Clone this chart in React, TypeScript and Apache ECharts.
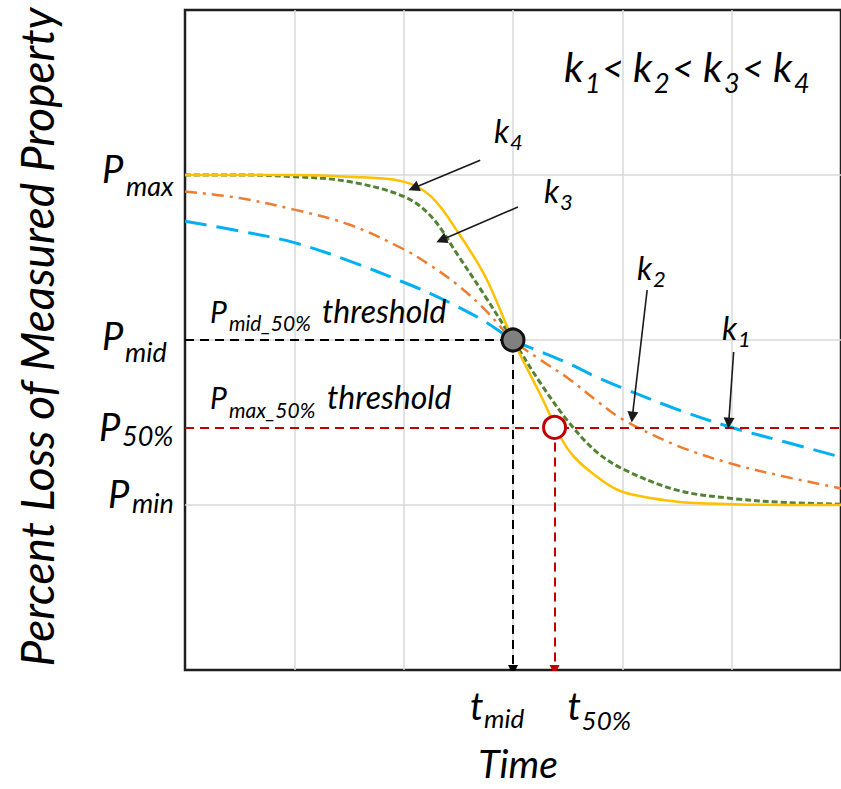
import React, { useEffect, useRef } from "react";
import * as echarts from "echarts";

// ---- data (time in grid units, property in grid units) ----
const timePoints = [0, 0.5, 1, 1.5, 2, 2.25, 2.5, 2.75, 3, 3.25, 3.5, 3.75, 4, 4.5, 5, 5.5, 6];
const k4Values = [3.0, 3.0, 3.0, 2.99, 2.96, 2.87, 2.65, 2.38, 2.0, 1.67, 1.34, 1.18, 1.08, 1.02, 1.005, 1.0, 1.0];
const k3Values = [3.0, 3.0, 2.99, 2.96, 2.87, 2.75, 2.51, 2.26, 2.0, 1.74, 1.51, 1.33, 1.22, 1.09, 1.04, 1.015, 1.005];
const k2Values = [2.9, 2.86, 2.79, 2.7, 2.55, 2.45, 2.33, 2.18, 2.0, 1.88, 1.77, 1.64, 1.52, 1.36, 1.25, 1.17, 1.1];
const k1Values = [2.72, 2.66, 2.59, 2.48, 2.35, 2.28, 2.2, 2.11, 2.0, 1.93, 1.86, 1.78, 1.71, 1.58, 1.47, 1.38, 1.29];

const pMax = 3;
const pMid = 2;
const p50 = 1.47;
const pMin = 1;
const tMid = 3;
const t50 = 3.38;
const tMin = 0;
const tMax = 6;
const yMin = 0;
const yMax = 4;

// annotation arrows (from label to curve), in data units
const arrowNames = ["k4", "k3", "k2", "k1"];
const arrowFrom = [[2.7, 3.09], [3.045, 2.806], [4.227, 2.303], [5.018, 1.927]];
const arrowTo = [[2.091, 2.921], [2.345, 2.606], [4.091, 1.533], [4.973, 1.497]];

const FONT = "Lato";

function App() {
  const ref = useRef<HTMLDivElement>(null);
  useEffect(() => {
    if (!ref.current) return;
    const chart = echarts.init(ref.current, null, { renderer: "svg" });
    const pair = (vals: number[]) => timePoints.map((t, i) => [t, vals[i]]);
    const curve = (name: string, vals: number[], lineStyle: any) => ({
      name,
      type: "line",
      data: pair(vals),
      smooth: 0.35,
      showSymbol: false,
      z: 2,
      lineStyle,
    });
    const option: any = {
      animation: false,
      grid: {
        left: 185,
        top: 10,
        width: 660,
        height: 660,
        show: true,
        borderColor: "#1e1e1e",
        borderWidth: 2.5,
        backgroundColor: "transparent",
      },
      xAxis: {
        type: "value",
        min: tMin,
        max: tMax,
        interval: 1,
        axisLine: { show: false },
        axisTick: { show: false },
        axisLabel: { show: false },
        splitLine: { show: true, showMinLine: false, showMaxLine: false, lineStyle: { color: "#d9d9d9", width: 1.5 } },
      },
      yAxis: {
        type: "value",
        min: yMin,
        max: yMax,
        interval: 1,
        axisLine: { show: false },
        axisTick: { show: false },
        axisLabel: { show: false },
        splitLine: { show: true, showMinLine: false, showMaxLine: false, lineStyle: { color: "#d9d9d9", width: 1.5 } },
      },
      series: [
        curve("k1", k1Values, { color: "#00B0F0", width: 3, type: [22, 10] }),
        curve("k2", k2Values, { color: "#ED7D31", width: 2.5, type: [12, 6, 3, 6] }),
        curve("k3", k3Values, { color: "#548235", width: 3, type: [6, 3] }),
        curve("k4", k4Values, { color: "#FFC000", width: 2.5 }),
        {
          name: "thresholds",
          type: "lines",
          coordinateSystem: "cartesian2d",
          z: 3,
          symbol: ["none", "none"],
          data: [
            { coords: [[tMin, pMid], [tMid, pMid]], lineStyle: { color: "#000" } },
            { coords: [[tMin, p50], [tMax, p50]], lineStyle: { color: "#C00000" } },
          ],
          lineStyle: { width: 2, type: [9, 6], opacity: 1 },
        },
        {
          name: "drops",
          type: "lines",
          coordinateSystem: "cartesian2d",
          z: 3,
          symbol: ["none", "triangle"],
          symbolSize: 10,
          data: [
            { coords: [[tMid, pMid], [tMid, yMin]], lineStyle: { color: "#000" } },
            { coords: [[t50, p50], [t50, yMin]], lineStyle: { color: "#C00000" } },
          ],
          lineStyle: { width: 2, type: [9, 6], opacity: 1 },
        },
        {
          name: "pointers",
          type: "lines",
          coordinateSystem: "cartesian2d",
          z: 4,
          symbol: ["none", "triangle"],
          symbolSize: 11,
          data: arrowNames.map((n, i) => ({ name: n, coords: [arrowFrom[i], arrowTo[i]] })),
          lineStyle: { width: 1.6, color: "#1a1a1a", type: "solid", opacity: 1 },
        },
        {
          name: "mid",
          type: "scatter",
          z: 6,
          symbolSize: 22,
          data: [[tMid, pMid]],
          itemStyle: { color: "#808080", borderColor: "#111", borderWidth: 3, opacity: 1 },
        },
        {
          name: "p50",
          type: "scatter",
          z: 6,
          symbolSize: 22,
          data: [[t50, p50]],
          itemStyle: { color: "#fff", borderColor: "#C00000", borderWidth: 3, opacity: 1 },
        },
      ],
    };
    chart.setOption(option);

    const px = (x: number, y: number) => chart.convertToPixel({ gridIndex: 0 }, [x, y]) as number[];
    // text placed by left edge and baseline
    const txt = (text: string, left: number, baseline: number, size: number) => ({
      type: "text",
      x: left,
      y: baseline - 0.387 * size,
      z: 10,
      style: {
        text,
        fontFamily: FONT,
        fontStyle: "italic",
        fontSize: size,
        fill: "#000",
        align: "left",
        verticalAlign: "middle",
      },
    });

    const elements: any[] = [];
    // left value labels
    const leftLabels: [string, number, number, number, number, number][] = [
      // sub, value, P left, P baseline offset, sub left, sub baseline offset
      ["max", pMax, 102, 8, 126, 21],
      ["mid", pMid, 102, 10, 125, 22],
      ["50%", p50, 99, 13, 122, 18],
      ["min", pMin, 108, 3, 132, 8],
    ];
    leftLabels.forEach(([sub, v, pl, pb, sl, sb]) => {
      const y = px(0, v)[1];
      elements.push(txt("P", pl, y + pb, 38));
      elements.push(txt(sub, sl, y + sb, 27));
    });
    // bottom time labels
    const yb = px(0, 0)[1];
    const xm = px(tMid, 0)[0];
    const x5 = px(t50, 0)[0];
    elements.push(txt("t", xm - 43, yb + 50, 38));
    elements.push(txt("mid", xm - 29, yb + 58, 26));
    elements.push(txt("t", x5 + 13, yb + 50, 38));
    elements.push(txt("50%", x5 + 27, yb + 60, 26));
    // axis titles
    elements.push({
      type: "text",
      x: 518,
      y: 763,
      z: 10,
      style: { text: "Time", fontFamily: FONT, fontStyle: "italic", fontSize: 39, fill: "#000", align: "center", verticalAlign: "middle" },
    });
    elements.push({
      type: "text",
      x: 36,
      y: 337,
      rotation: Math.PI / 2,
      z: 10,
      style: {
        text: "Percent Loss of Measured Property",
        fontFamily: FONT,
        fontStyle: "italic",
        fontSize: 46,
        fill: "#000",
        align: "center",
        verticalAlign: "middle",
      },
    });
    // threshold captions
    const ymid = px(0, pMid)[1];
    const y50 = px(0, p50)[1];
    elements.push(txt("P", 210, ymid - 17, 30));
    elements.push(txt("mid_50%", 229, ymid - 9, 21));
    elements.push(txt("threshold", 322, ymid - 17, 32));
    elements.push(txt("P", 210, y50 - 19, 30));
    elements.push(txt("max_50%", 229, y50 - 10, 21));
    elements.push(txt("threshold", 327, y50 - 19, 32));
    // arrow labels
    const kLab: [string, number, number][] = [
      ["4", 494, 143],
      ["3", 544, 203],
      ["2", 637, 280],
      ["1", 722, 340],
    ];
    kLab.forEach(([s, l, b]) => {
      elements.push(txt("k", l, b, 32));
      elements.push(txt(s, l + 16, b + 7, 22));
    });
    // ordering statement
    const parts: [string, number, number, number][] = [
      ["k", 564, 82, 41],
      ["1", 585, 93, 27],
      ["<", 602, 82, 38],
      ["k", 633, 82, 41],
      ["2", 654, 93, 27],
      ["<", 672, 82, 38],
      ["k", 703, 82, 41],
      ["3", 724, 93, 27],
      ["<", 742, 82, 38],
      ["k", 773, 82, 41],
      ["4", 794, 93, 27],
    ];
    parts.forEach(([t, l, b, s]) => elements.push(txt(t, l, b, s)));

    chart.setOption({ graphic: elements });
    return () => chart.dispose();
  }, []);
  return <div ref={ref} style={{ position: "absolute", left: 0, top: 0, width: 841, height: 789 }} />;
}

export default App;
